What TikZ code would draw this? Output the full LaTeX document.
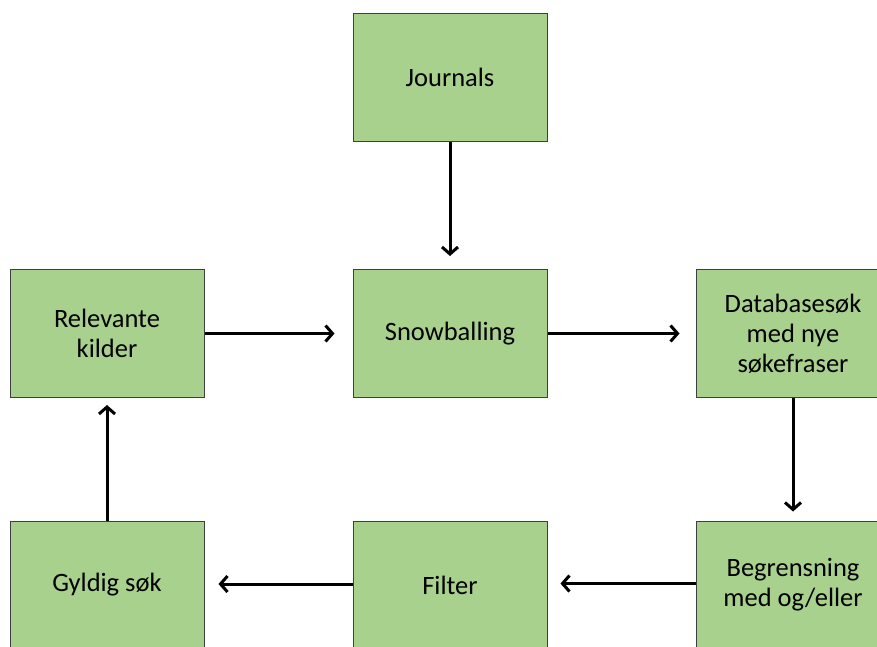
\documentclass[tikz,border=0pt]{standalone}
\usepackage{fontspec}
\setmainfont{Carlito}
\usetikzlibrary{arrows.meta}
\definecolor{boxfill}{HTML}{A9D18E}
\definecolor{boxline}{HTML}{3F3F3F}
\tikzset{
  flowbox/.style={draw=boxline, line width=1pt, fill=boxfill, minimum width=194pt,
    minimum height=128pt, inner sep=0pt, align=center, text=black,
    font=\fontsize{26.5}{30}\selectfont},
  flowarrow/.style={line width=3pt, -{Straight Barb[length=7pt,width=16pt,line width=3pt]}}
}
\begin{document}
\begin{tikzpicture}[x=1pt,y=-1pt]
\useasboundingbox (0,0) rectangle (877,646);
\clip (0,0) rectangle (877,646);
\node[flowbox] (jour) at (450,77) {Journals};
\node[flowbox] (rel) at (107,333.5) {Relevante\\kilder};
\node[flowbox] (snow) at (450,333.5) {Snowballing};
\node[flowbox] (db) at (793,333.5) {Databasesøk\\med nye\\søkefraser};
\node[flowbox] (gyl) at (107,585) {Gyldig søk};
\node[flowbox] (fil) at (450,585) {Filter};
\node[flowbox] (beg) at (793,585) {Begrensning\\med og/eller};
\draw[flowarrow, shorten >=13pt] (jour.south) -- (snow.north);
\draw[flowarrow, shorten >=18pt] (rel.east) -- (snow.west);
\draw[flowarrow, shorten >=16pt] (snow.east) -- (db.west);
\draw[flowarrow, shorten >=9pt] (db.south) -- (beg.north);
\draw[flowarrow, shorten >=13pt] ([yshift=1.5pt]beg.west) -- ([yshift=1.5pt]fil.east);
\draw[flowarrow, shorten >=14pt] ([yshift=1pt]fil.west) -- ([yshift=1pt]gyl.east);
\draw[flowarrow, shorten >=7pt] (gyl.north) -- (rel.south);
\end{tikzpicture}
\end{document}
